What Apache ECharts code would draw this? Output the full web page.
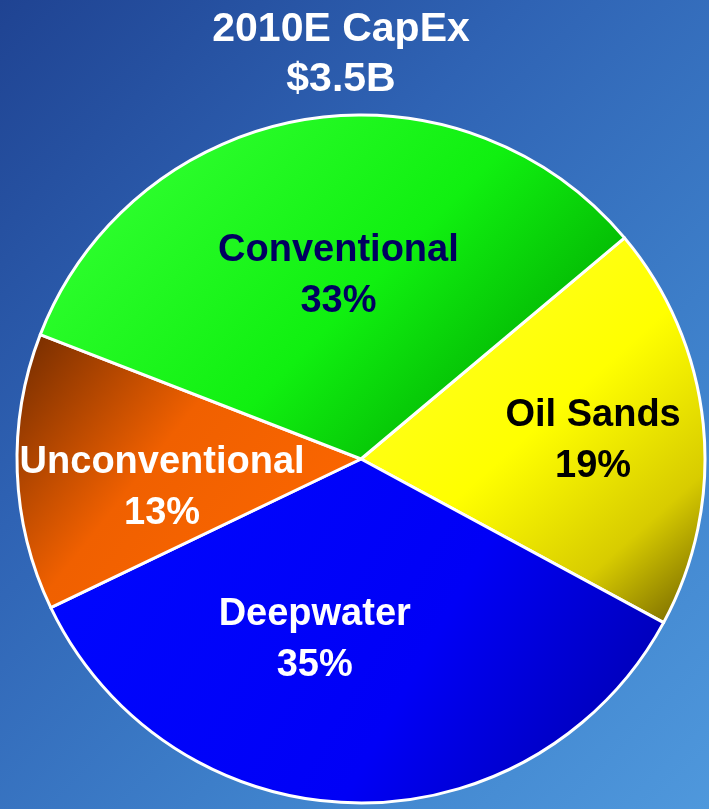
<!DOCTYPE html>
<html>
<head>
<meta charset="utf-8">
<style>
  html, body { margin: 0; padding: 0; }
  #chart {
    width: 709px;
    height: 809px;
    background: linear-gradient(135deg, #1f4392 0%, #2f63b4 35%, #3f82cc 70%, #4f98dc 100%);
  }
</style>
<script src="https://cdn.jsdelivr.net/npm/echarts@6/dist/echarts.min.js"></script>
</head>
<body>
<div id="chart"></div>
<script>
// 数据
const categories = ['Oil Sands', 'Deepwater', 'Unconventional', 'Conventional'];
const shares = [19, 35, 13, 33];

// 每块的样式（颜色、标签偏移）
const sliceStyles = {
  'Oil Sands': {
    fill: [[0, '#ffff30'], [0.5, '#ffff00'], [0.78, '#d8cc00'], [1, '#6a5a00']],
    text: '#000000',
    offset: [58, 0]
  },
  'Deepwater': {
    fill: [[0, '#0008ff'], [0.6, '#0000f6'], [1, '#0000a4']],
    text: '#ffffff',
    offset: [-42, 6]
  },
  'Unconventional': {
    fill: [[0, '#6e2a00'], [0.42, '#f06000'], [1, '#ff6800']],
    text: '#ffffff',
    offset: [-24, 22]
  },
  'Conventional': {
    fill: [[0, '#30ff30'], [0.55, '#10f010'], [1, '#00a800']],
    text: '#000060',
    offset: [6, -10]
  }
};

const chart = echarts.init(document.getElementById('chart'), null, { renderer: 'canvas' });

function gradient(x, y, x2, y2, stops) {
  return new echarts.graphic.LinearGradient(x, y, x2, y2, stops.map(function (st) {
    return { offset: st[0], color: st[1] };
  }));
}

const pieData = categories.map(function (name, i) {
  const s = sliceStyles[name];
  return {
    name: name,
    value: shares[i],
    itemStyle: {
      color: name === 'Conventional'
        ? gradient(0.2, 0, 0.8, 1, s.fill)
        : gradient(0, 0, 1, 1, s.fill)
    },
    label: {
      color: s.text,
      offset: s.offset
    }
  };
});

const option = {
  backgroundColor: 'transparent',
  title: {
    text: '2010E CapEx\n$3.5B',
    left: 336,
    top: 0,
    textAlign: 'center',
    textStyle: {
      color: '#ffffff',
      fontFamily: 'Liberation Sans, Arial, sans-serif',
      fontWeight: 'bold',
      fontSize: 41,
      lineHeight: 50
    }
  },
  series: [{
    type: 'pie',
    center: [361, 459],
    radius: [0, 344],
    startAngle: 40,
    clockwise: true,
    avoidLabelOverlap: false,
    silent: true,
    animation: false,
    itemStyle: {
      borderColor: '#ffffff',
      borderWidth: 3
    },
    label: {
      show: true,
      position: 'inside',
      formatter: '{b}\n{c}%',
      fontFamily: 'Liberation Sans, Arial, sans-serif',
      fontWeight: 'bold',
      fontSize: 38,
      lineHeight: 51,
      align: 'center'
    },
    labelLine: { show: false },
    data: pieData
  }]
};

chart.setOption(option);
</script>
</body>
</html>
